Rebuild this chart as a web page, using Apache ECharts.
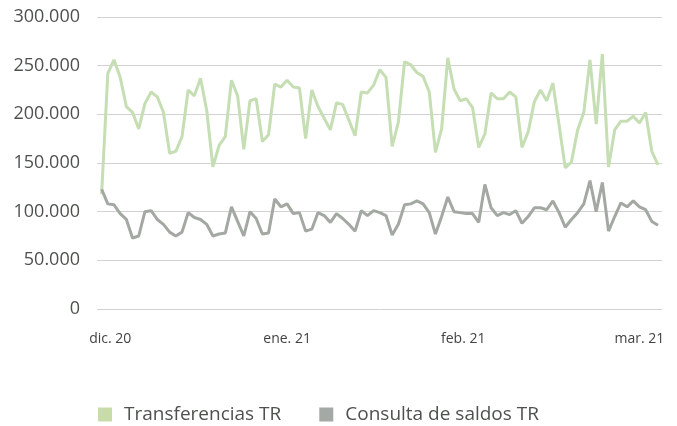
<!DOCTYPE html>
<html>
<head>
<meta charset="utf-8">
<script src="https://cdn.jsdelivr.net/npm/echarts@6/dist/echarts.min.js"></script>
<style>
  html, body { margin: 0; padding: 0; background: #fff; }
  #chart { width: 677px; height: 426px; }
</style>
</head>
<body>
<div id="chart"></div>
<script>
// daily values, 1 dic 2020 .. 1 mar 2021 (thousands)
const transferencias = [
  118, 242, 256, 238, 208, 202, 185, 211, 223, 218,
  202, 160, 162, 177, 225, 219, 237, 204, 146, 168,
  177, 235, 219, 164, 214, 216, 172, 179, 231, 228,
  235, 228, 227, 175, 225, 208, 196, 184, 212, 210,
  194, 178, 223, 222, 230, 246, 238, 167, 192, 254,
  251, 243, 239, 223, 161, 185, 258, 226, 214, 216,
  207, 166, 180, 222, 216, 216, 223, 218, 166, 182,
  213, 225, 214, 232, 189, 145, 151, 184, 202, 256,
  190, 262, 146, 184, 193, 193, 198, 191, 202, 162,
  148
];
const consultaSaldos = [
  123, 108, 107, 98, 92, 73, 75, 100, 101, 92,
  87, 79, 75, 79, 99, 94, 92, 87, 75, 77,
  78, 105, 90, 75, 100, 93, 77, 78, 113, 105,
  108, 98, 99, 80, 82, 99, 96, 89, 98, 93,
  87, 80, 101, 96, 101, 99, 96, 76, 87, 107,
  108, 111, 108, 99, 77, 95, 115, 100, 99, 98,
  98, 89, 128, 104, 96, 99, 97, 101, 88, 95,
  104, 104, 102, 111, 99, 84, 92, 99, 108, 132,
  100, 130, 80, 95, 109, 105, 111, 105, 102, 90,
  86
];
const monthLabels = ["dic. 20", "ene. 21", "feb. 21", "mar. 21"];
const monthLabelPos = [1.4, 30, 58.5, 87];

const toPoints = arr => arr.map((v, i) => [i, v * 1000]);
const fmtThousands = v => String(v).replace(/\B(?=(\d{3})+(?!\d))/g, ".");

const chart = echarts.init(document.getElementById("chart"));
chart.setOption({
  animation: false,
  color: ["#c6deb3", "#a3a8a3"],
  grid: { left: 97, right: 15, top: 17, bottom: 117 },
  legend: {
    left: 93,
    top: 400,
    itemWidth: 14,
    itemHeight: 14,
    itemGap: 38,
    icon: "rect",
    textStyle: {
      fontFamily: "Open Sans",
      fontSize: 19,
      color: "#4d524d",
      padding: [0, 0, 0, 7]
    },
    data: [
      { name: "Transferencias TR", itemStyle: { color: "#c8dca9" } },
      { name: "Consulta de saldos TR", itemStyle: { color: "#a5a9a5" } }
    ]
  },
  xAxis: {
    type: "value",
    min: -0.75,
    max: 90.65,
    axisLine: { show: false },
    axisTick: { show: false },
    splitLine: { show: false },
    axisLabel: {
      customValues: monthLabelPos,
      formatter: v => {
        const k = monthLabelPos.findIndex(p => Math.abs(p - v) < 0.01);
        return k >= 0 ? monthLabels[k] : "";
      },
      margin: 23,
      fontFamily: "Open Sans",
      fontSize: 14,
      color: "#404440"
    }
  },
  yAxis: {
    type: "value",
    min: 0,
    max: 300000,
    interval: 50000,
    axisLine: { show: false },
    axisTick: { show: false },
    splitLine: { lineStyle: { color: "#d2d2d2", width: 1 } },
    axisLabel: {
      formatter: fmtThousands,
      margin: 17,
      fontFamily: "Open Sans",
      fontSize: 18,
      color: "#4d524d"
    }
  },
  series: [
    {
      name: "Transferencias TR",
      type: "line",
      showSymbol: false,
      lineStyle: { width: 3, color: "#c6deb3" },
      data: toPoints(transferencias)
    },
    {
      name: "Consulta de saldos TR",
      type: "line",
      showSymbol: false,
      lineStyle: { width: 3, color: "#a3a8a3" },
      data: toPoints(consultaSaldos)
    }
  ]
});
</script>
</body>
</html>
